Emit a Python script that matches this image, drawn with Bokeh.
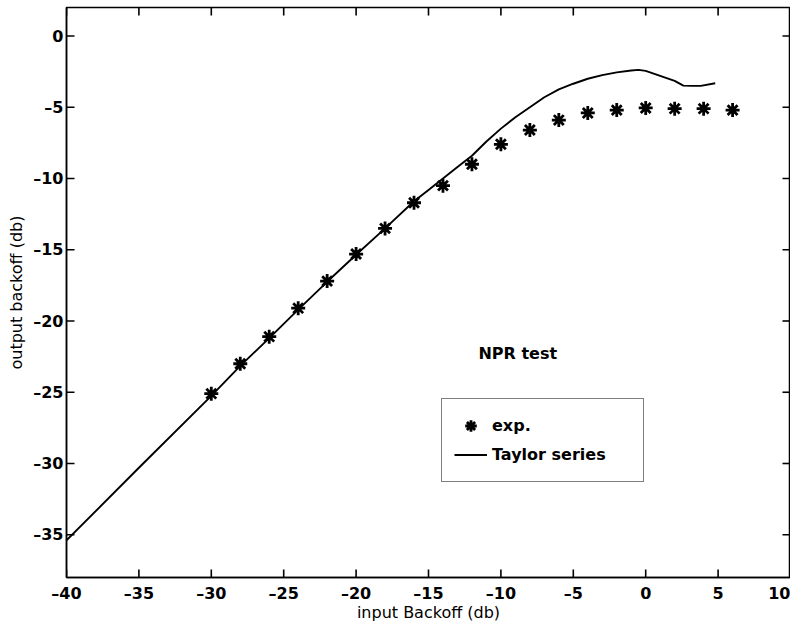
from bokeh.plotting import figure
from bokeh.models import Range1d, Legend, LegendItem, FixedTicker, Label
from bokeh.embed import file_html
from bokeh.resources import INLINE

# experimental points
exp_x = [-30, -28, -26, -24, -22, -20, -18, -16, -14, -12, -10, -8, -6, -4, -2, 0, 2, 4, 6]
exp_y = [-25.1, -23.0, -21.1, -19.1, -17.2, -15.3, -13.5, -11.7, -10.5, -9.0, -7.6,
         -6.6, -5.9, -5.4, -5.2, -5.05, -5.1, -5.1, -5.2]

# Taylor series curve
tay_x = [-40, -35, -30, -28, -26, -24, -22, -20, -18, -16, -15, -14, -13,
         -12, -11, -10, -9, -8, -7, -6, -5, -4, -3, -2, -1, -0.5, 0, 1, 2, 2.6, 3.2, 3.8, 4.8]
tay_y = [-35.4, -30.3, -25.25, -23.15, -21.2, -19.2, -17.25, -15.35, -13.5, -11.6,
         -10.8, -10.0, -9.2, -8.4, -7.4, -6.5, -5.7, -5.0, -4.3, -3.75, -3.35, -3.0, -2.75,
         -2.55, -2.42, -2.38, -2.45, -2.8, -3.15, -3.48, -3.5, -3.5, -3.32]

x_ticks = [-40, -35, -30, -25, -20, -15, -10, -5, 0, 5, 10]
y_ticks = [0, -5, -10, -15, -20, -25, -30, -35]
x_labels = {t: (("\u2013" + str(-t)) if t < 0 else str(t)) for t in x_ticks}
y_labels = {t: (("\u2013" + str(-t)) if t < 0 else str(t)) for t in y_ticks}

X0, X1 = -40, 10
Y0, Y1 = -38, 2

FONT = "DejaVu Sans"
FW, FH = 724, 570

p = figure(frame_width=FW, frame_height=FH, output_backend="svg", toolbar_location=None,
           x_range=Range1d(X0, X1), y_range=Range1d(Y0, Y1),
           min_border_left=66, min_border_right=0, min_border_top=7, min_border_bottom=0,
           background_fill_color="white", border_fill_color="white")
p.xgrid.visible = False
p.ygrid.visible = False
p.outline_line_color = "black"
p.outline_line_width = 1.5

for ax, ticks, labels in ((p.xaxis[0], x_ticks, x_labels), (p.yaxis[0], y_ticks, y_labels)):
    ax.ticker = FixedTicker(ticks=ticks)
    ax.major_label_overrides = labels
    ax.major_tick_in = 0
    ax.major_tick_out = 0
    ax.minor_tick_in = 0
    ax.minor_tick_out = 0
    ax.axis_line_width = 1.5
    ax.major_label_text_font = FONT
    ax.major_label_text_font_style = "bold"
    ax.major_label_text_font_size = "16px"
    ax.major_label_text_color = "black"
    ax.axis_label_text_font = FONT
    ax.axis_label_text_font_style = "normal"
    ax.axis_label_text_font_size = "16px"
    ax.axis_label_text_color = "black"

p.xaxis.axis_label = "input Backoff (db)"
p.yaxis.axis_label = "output backoff (db)"
p.xaxis.major_label_standoff = 6
p.xaxis.axis_label_standoff = -3
p.yaxis.major_label_standoff = 3
p.yaxis.axis_label_standoff = 4

# inward tick marks on all four sides, 8 px long
TICK_PX = 8
dy = TICK_PX * (Y1 - Y0) / FH
dx = TICK_PX * (X1 - X0) / FW
nx, ny = len(x_ticks), len(y_ticks)
p.segment(x0=x_ticks, y0=[Y0] * nx, x1=x_ticks, y1=[Y0 + dy] * nx,
          line_color="black", line_width=1.6)
p.segment(x0=x_ticks, y0=[Y1] * nx, x1=x_ticks, y1=[Y1 - dy] * nx,
          line_color="black", line_width=1.6)
p.segment(x0=[X0] * ny, y0=y_ticks, x1=[X0 + dx] * ny, y1=y_ticks,
          line_color="black", line_width=1.6)
p.segment(x0=[X1] * ny, y0=y_ticks, x1=[X1 - dx] * ny, y1=y_ticks,
          line_color="black", line_width=1.6)

line_r = p.line(tay_x, tay_y, line_color="black", line_width=1.9)
star_r = p.scatter(exp_x, exp_y, marker="asterisk", size=14, line_color="black", line_width=2.8)

p.add_layout(Label(x=-11.55, y=-22.3, text="NPR test", text_font=FONT, text_font_style="bold",
                   text_font_size="16px", text_baseline="middle", text_align="left",
                   text_color="black"))

legend = Legend(items=[LegendItem(label="exp.", renderers=[star_r]),
                       LegendItem(label="Taylor series", renderers=[line_r])],
                location=(375, 95), padding=12, spacing=0, margin=0,
                glyph_width=33, glyph_height=29, label_height=29, label_width=139,
                label_standoff=5, label_text_font=FONT, label_text_font_style="bold",
                label_text_font_size="16px", label_text_color="black",
                border_line_color="black", border_line_width=1.2,
                background_fill_alpha=1.0)
p.add_layout(legend)

open("out.html", "w").write(file_html(p, INLINE))
